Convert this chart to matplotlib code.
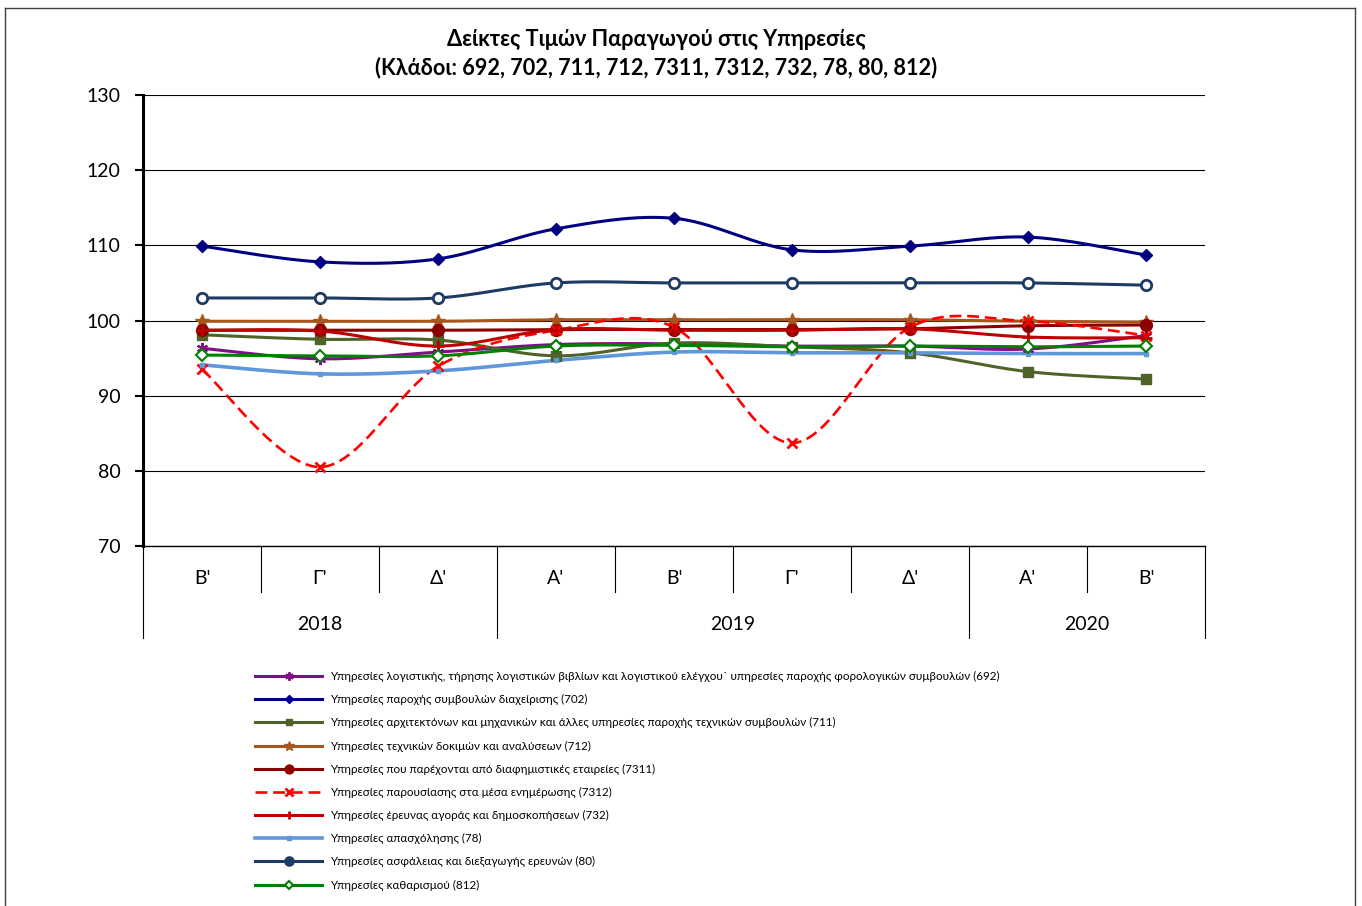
import numpy as np
import matplotlib
matplotlib.use("Agg")
import matplotlib.pyplot as plt
from matplotlib.lines import Line2D
import matplotlib.transforms as mtransforms

plt.rcParams['font.family'] = ['Lato', 'DejaVu Sans']

quarters = ["Β'", "Γ'", "Δ'", "Α'", "Β'", "Γ'", "Δ'", "Α'", "Β'"]
years = ["2018", "2019", "2020"]
year_counts = [3, 4, 2]

s692 = [96.3, 94.9, 95.8, 96.8, 96.9, 96.6, 96.6, 96.2, 98.0]
s702 = [109.9, 107.8, 108.2, 112.2, 113.6, 109.4, 109.9, 111.1, 108.7]
s711 = [98.1, 97.5, 97.4, 95.3, 97.0, 96.5, 95.7, 93.2, 92.2]
s712 = [99.9, 99.9, 99.9, 100.1, 100.1, 100.1, 100.1, 99.9, 99.8]
s7311 = [98.7, 98.7, 98.7, 98.8, 98.8, 98.8, 98.9, 99.3, 99.4]
s7312 = [93.5, 80.5, 93.9, 98.7, 99.1, 83.7, 99.1, 99.9, 98.0]
s732 = [98.7, 98.6, 96.6, 98.8, 98.7, 98.7, 98.9, 97.8, 97.7]
s78 = [94.1, 92.9, 93.3, 94.7, 95.8, 95.7, 95.7, 95.6, 95.6]
s80 = [103.0, 103.0, 103.0, 105.0, 105.0, 105.0, 105.0, 105.0, 104.7]
s812 = [95.4, 95.3, 95.3, 96.6, 96.7, 96.5, 96.6, 96.5, 96.6]

labels = [
    "Υπηρεσίες λογιστικής, τήρησης λογιστικών βιβλίων και λογιστικού ελέγχου˙ υπηρεσίες παροχής φορολογικών συμβουλών (692)",
    "Υπηρεσίες παροχής συμβουλών διαχείρισης (702)",
    "Υπηρεσίες αρχιτεκτόνων και μηχανικών και άλλες υπηρεσίες παροχής τεχνικών συμβουλών (711)",
    "Υπηρεσίες τεχνικών δοκιμών και αναλύσεων (712)",
    "Υπηρεσίες που παρέχονται από διαφημιστικές εταιρείες (7311)",
    "Υπηρεσίες παρουσίασης στα μέσα ενημέρωσης (7312)",
    "Υπηρεσίες έρευνας αγοράς και δημοσκοπήσεων (732)",
    "Υπηρεσίες απασχόλησης (78)",
    "Υπηρεσίες ασφάλειας και διεξαγωγής ερευνών (80)",
    "Υπηρεσίες καθαρισμού (812)",
]
series = [s692, s702, s711, s712, s7311, s7312, s732, s78, s80, s812]

styles = [
    dict(color='#7F0F86', marker=(6, 2, 0), ms=8, mew=1.5, ls='-', lw=2.2),
    dict(color='#000080', marker='D', ms=6, ls='-', lw=2.2),
    dict(color='#4F6228', marker='s', ms=6.5, ls='-', lw=2.2),
    dict(color='#A8571C', marker='*', ms=10, ls='-', lw=2.2),
    dict(color='#8B0000', marker='o', ms=8.5, ls='-', lw=2.2),
    dict(color='#FF0000', marker='x', ms=7, mew=2, ls='--', lw=1.9),
    dict(color='#C00000', marker='+', ms=8, mew=2, ls='-', lw=2.2),
    dict(color='#5F97DB', marker='s', ms=3.5, ls='-', lw=2.6),
    dict(color='#1F3B63', marker='o', ms=7.5, mew=2, mfc='white', ls='-', lw=2.2),
    dict(color='#008000', marker='D', ms=6, mew=1.5, mfc='white', ls='-', lw=2.2),
]
legend_mfc_white = [False] * 9 + [True]


def smooth(x, y, n=30):
    """Excel-style smoothed line (cubic Bezier, 1/6 tangent)."""
    x = np.asarray(x, float)
    y = np.asarray(y, float)
    P = np.column_stack([x, y])
    m = len(P)
    out = []
    t = np.linspace(0, 1, n)[:, None]
    for i in range(m - 1):
        p0 = P[i]
        p3 = P[i + 1]
        pm = P[i - 1] if i > 0 else P[i]
        pp = P[i + 2] if i + 2 < m else P[i + 1]
        c1 = p0 + (p3 - pm) / 6.0
        c2 = p3 - (pp - p0) / 6.0
        seg = ((1 - t) ** 3) * p0 + 3 * ((1 - t) ** 2) * t * c1 + 3 * (1 - t) * t ** 2 * c2 + t ** 3 * p3
        out.append(seg if i == 0 else seg[1:])
    out = np.vstack(out)
    return out[:, 0], out[:, 1]


W, H = 1362, 906
fig = plt.figure(figsize=(W / 100, H / 100), dpi=100)

# outer chart border
for xs, ys in [((5 / W, 5 / W), (0, 1 - 8 / H)),
               ((5 / W, 1355 / W), (1 - 8 / H, 1 - 8 / H)),
               ((1355 / W, 1355 / W), (1 - 8 / H, 0))]:
    fig.add_artist(Line2D(xs, ys, transform=fig.transFigure, color='#404040', lw=1.0))

ax_l, ax_r, ax_t, ax_b = 143, 1205, 95, 546
ax = fig.add_axes([ax_l / W, 1 - ax_b / H, (ax_r - ax_l) / W, (ax_b - ax_t) / H])

x = np.arange(len(quarters))
handles = []
for s, st, lab, wfill in zip(series, styles, labels, legend_mfc_white):
    st = dict(st)
    marker = st.pop('marker')
    ms = st.pop('ms')
    mew = st.pop('mew', 1.0)
    mfc = st.pop('mfc', st['color'])
    dashes = (4.5, 2.2) if st['ls'] == '--' else None
    xs, ys = smooth(x, s)
    kw = dict(color=st['color'], lw=st['lw'], solid_capstyle='round', zorder=3)
    if dashes:
        ax.plot(xs, ys, ls='--', dashes=dashes, **kw)
    else:
        ax.plot(xs, ys, ls='-', **kw)
    ax.plot(x, s, ls='none', marker=marker, ms=ms, mew=mew, mfc=mfc, mec=st['color'], zorder=4)
    hkw = dict(color=st['color'], lw=st['lw'], marker=marker, ms=ms * 0.75, mew=mew,
               mfc='white' if wfill else st['color'], mec=st['color'])
    if dashes:
        h = Line2D([0], [0], ls='--', dashes=dashes, **hkw)
    else:
        h = Line2D([0], [0], ls='-', **hkw)
    handles.append(h)

ax.set_xlim(-0.5, len(quarters) - 0.5)
ax.set_ylim(70, 130)
ax.set_yticks(np.arange(70, 131, 10))
ax.yaxis.grid(True, color='#000000', lw=0.8)
ax.set_axisbelow(True)
ax.tick_params(axis='y', labelsize=14, length=6, width=1.5, pad=10, direction='out')
ax.set_xticks([])
for sp in ['top', 'right']:
    ax.spines[sp].set_visible(False)
ax.spines['left'].set_linewidth(2.2)
ax.spines['bottom'].set_linewidth(1.0)

# category axis (two levels)
trans = mtransforms.blended_transform_factory(ax.transData, ax.transAxes)
axh = ax_b - ax_t
q_depth = -46 / axh
y_depth = -92 / axh
for i, q in enumerate(quarters):
    ax.text(i, -33 / axh, q, transform=trans, ha='center', va='center', fontsize=14)
bounds = np.concatenate([[0], np.cumsum(year_counts)])
year_edges = set(bounds.tolist())
for b in range(len(quarters) + 1):
    depth = y_depth if b in year_edges else q_depth
    ax.plot([b - 0.5, b - 0.5], [0, depth], transform=trans, color='#000000', lw=0.8, clip_on=False)
for yr, a, bnd in zip(years, bounds[:-1], bounds[1:]):
    ax.text((a + bnd - 1) / 2, -78 / axh, yr, transform=trans, ha='center', va='center', fontsize=14)

fig.text(656 / W, 1 - 39 / H, "Δείκτες Τιμών Παραγωγού στις Υπηρεσίες", ha='center', va='center',
         fontsize=15.6, fontweight='bold')
fig.text(656 / W, 1 - 68 / H, "(Κλάδοι: 692, 702, 711, 712, 7311, 7312, 732, 78, 80, 812)", ha='center',
         va='center', fontsize=15.6, fontweight='bold')

fig.legend(handles, labels, loc='upper left', bbox_to_anchor=(255 / W, 1 - 671 / H),
           bbox_transform=fig.transFigure, frameon=False, fontsize=8.4, handlelength=5.75,
           handletextpad=0.68, labelspacing=1.04, borderpad=0, borderaxespad=0)

fig.savefig("out.png", dpi=100)
